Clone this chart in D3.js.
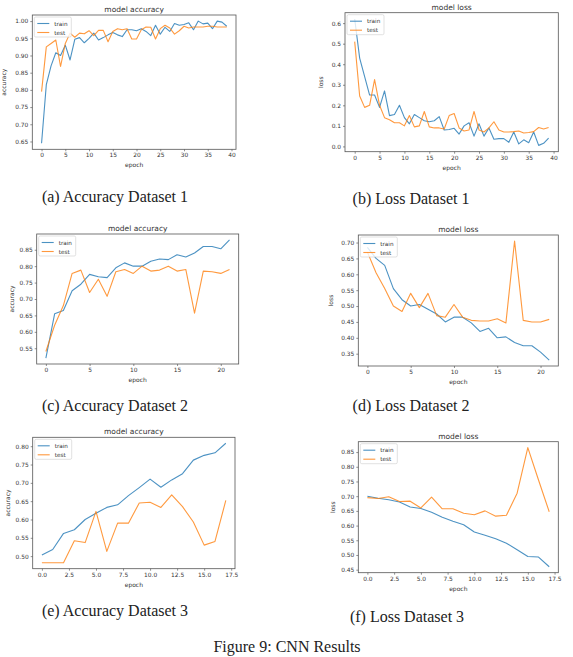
<!DOCTYPE html>
<html lang="en">
<head>
<meta charset="utf-8">
<title>CNN Results</title>
<script src="https://cdn.jsdelivr.net/npm/d3@7"></script>
<style>
  body { margin: 0; background: #fff; }
  svg text { fill: #333; }
  .tick text { font-family: "DejaVu Sans", sans-serif; font-size: 5.9px; fill: #333; }
  .tick line { stroke: #444; stroke-width: 0.6; }
  .domain { display: none; }
  .frame { fill: none; stroke: #555; stroke-width: 0.8; }
  .title { font-family: "DejaVu Sans", sans-serif; font-size: 7.5px; }
  .lab { font-family: "DejaVu Sans", sans-serif; font-size: 6px; }
  .leg text { font-family: "DejaVu Sans", sans-serif; font-size: 5.7px; }
  .cap { font-family: "Liberation Serif", serif; font-size: 16px; fill: #222; }
</style>
</head>
<body>
<svg id="fig" width="573" height="657"></svg>
<script type="text/javascript">

// ---- data ----
// dataset 1 (40 epochs)
var acc1_train = [0.645,0.815,0.87,0.908,0.90,0.93,0.887,0.947,0.952,0.937,0.95,0.965,0.945,0.952,0.96,0.967,0.96,0.955,0.975,0.975,
                  0.972,0.978,0.97,0.958,0.988,0.962,0.982,0.97,0.993,0.988,0.99,0.995,0.975,1.0,0.992,0.994,0.978,1.0,0.997,0.985];
var acc1_test  = [0.795,0.925,0.935,0.945,0.868,0.935,0.965,0.953,0.965,0.963,0.972,0.958,0.973,0.973,0.94,0.97,0.978,0.975,0.978,0.948,
                  0.948,0.975,0.983,0.982,0.948,0.978,0.988,0.98,0.962,0.972,0.985,0.98,0.983,0.983,0.983,0.985,0.985,0.983,0.983,0.983];
var loss1_train = [0.62,0.43,0.34,0.25,0.25,0.19,0.27,0.15,0.155,0.20,0.14,0.11,0.155,0.14,0.125,0.12,0.125,0.145,0.08,0.082,
                   0.088,0.06,0.10,0.115,0.05,0.11,0.05,0.09,0.035,0.038,0.038,0.02,0.07,0.012,0.032,0.018,0.07,0.005,0.015,0.04];
var loss1_test  = [0.51,0.245,0.19,0.20,0.325,0.20,0.14,0.13,0.115,0.115,0.10,0.15,0.095,0.10,0.17,0.095,0.09,0.09,0.085,0.15,
                   0.16,0.09,0.075,0.08,0.17,0.08,0.07,0.09,0.12,0.08,0.07,0.07,0.072,0.075,0.065,0.068,0.072,0.092,0.085,0.092];
// dataset 2 (22 epochs)
var acc2_train = [0.52,0.655,0.665,0.725,0.745,0.775,0.768,0.765,0.795,0.81,0.80,0.80,0.815,0.822,0.82,0.835,0.828,0.84,0.86,0.86,0.853,0.88];
var acc2_test  = [0.54,0.62,0.68,0.778,0.788,0.72,0.76,0.708,0.783,0.79,0.778,0.80,0.785,0.788,0.80,0.785,0.79,0.657,0.785,0.783,0.778,0.79];
var loss2_train = [0.685,0.65,0.628,0.555,0.52,0.50,0.505,0.49,0.475,0.45,0.465,0.465,0.447,0.42,0.43,0.40,0.403,0.385,0.375,0.375,0.355,0.33];
var loss2_test  = [0.67,0.605,0.555,0.50,0.483,0.54,0.495,0.54,0.47,0.465,0.505,0.465,0.455,0.453,0.453,0.46,0.447,0.705,0.455,0.45,0.45,0.458];
// dataset 3 (18 epochs)
var acc3_train = [0.503,0.518,0.562,0.572,0.60,0.617,0.633,0.64,0.665,0.687,0.71,0.688,0.708,0.725,0.762,0.775,0.782,0.808];
var acc3_test  = [0.482,0.482,0.482,0.542,0.537,0.622,0.513,0.59,0.59,0.645,0.647,0.633,0.667,0.635,0.593,0.53,0.54,0.652];
var loss3_train = [0.70,0.693,0.688,0.68,0.663,0.658,0.645,0.628,0.615,0.603,0.578,0.567,0.555,0.54,0.518,0.495,0.493,0.46];
var loss3_test  = [0.695,0.692,0.698,0.682,0.683,0.66,0.697,0.657,0.657,0.642,0.637,0.65,0.632,0.635,0.71,0.865,0.755,0.647];

// tick values
var xt40 = [0,5,10,15,20,25,30,35,40];
var xt20 = [0,5,10,15,20];
var xt175 = [0,2.5,5,7.5,10,12.5,15,17.5];
var yt_acc1 = [0.65,0.70,0.75,0.80,0.85,0.90,0.95,1.00];
var yt_loss1 = [0.0,0.1,0.2,0.3,0.4,0.5,0.6];
var yt_acc2 = [0.55,0.60,0.65,0.70,0.75,0.80,0.85];
var yt_loss2 = [0.35,0.40,0.45,0.50,0.55,0.60,0.65,0.70];
var yt_acc3 = [0.50,0.55,0.60,0.65,0.70,0.75,0.80];
var yt_loss3 = [0.45,0.50,0.55,0.60,0.65,0.70,0.75,0.80,0.85];

var captions = ["(a) Accuracy Dataset 1","(b) Loss Dataset 1","(c) Accuracy Dataset 2",
                "(d) Loss Dataset 2","(e) Accuracy Dataset 3","(f) Loss Dataset 3"];
var series_names = ["train","test"];
var colors = ["#1f77b4","#ff7f0e"];

var svg = d3.select("#fig");

// one subplot: box = plot area rectangle, cap = caption position
function subplot(box, train, test, title, ylab, xticks, yticks, xfmt, yfmt, cap) {
  var g = svg.append("g");
  var n = train.length;
  var xpad = (n - 1) * 0.05;
  var x = d3.scaleLinear().domain([-xpad, n - 1 + xpad]).range([box.x0, box.x1]);
  var all = train.concat(test);
  var lo = d3.min(all), hi = d3.max(all), yp = (hi - lo) * 0.05;
  var y = d3.scaleLinear().domain([lo - yp, hi + yp]).range([box.y1, box.y0]);

  g.append("g").attr("transform", "translate(0," + box.y1 + ")")
    .call(d3.axisBottom(x).tickValues(xticks).tickFormat(d3.format(xfmt)).tickSize(2).tickPadding(2));
  g.append("g").attr("transform", "translate(" + box.x0 + ",0)")
    .call(d3.axisLeft(y).tickValues(yticks).tickFormat(d3.format(yfmt)).tickSize(2).tickPadding(2));

  var line = d3.line().x(function(d, i) { return x(i); }).y(function(d) { return y(d); });
  [train, test].forEach(function(s, k) {
    g.append("path").datum(s).attr("d", line)
      .attr("fill", "none").attr("stroke", colors[k]).attr("stroke-width", 1.1)
      .attr("stroke-linejoin", "round").attr("opacity", 0.8);
  });

  g.append("rect").attr("class", "frame")
    .attr("x", box.x0).attr("y", box.y0).attr("width", box.x1 - box.x0).attr("height", box.y1 - box.y0);

  g.append("text").attr("class", "title").attr("text-anchor", "middle")
    .attr("x", (box.x0 + box.x1) / 2).attr("y", box.y0 - 3).text(title);
  g.append("text").attr("class", "lab").attr("text-anchor", "middle")
    .attr("x", (box.x0 + box.x1) / 2).attr("y", box.y1 + 18).text("epoch");
  g.append("text").attr("class", "lab").attr("text-anchor", "middle")
    .attr("transform", "translate(" + (box.x0 - box.yl) + "," + ((box.y0 + box.y1) / 2) + ") rotate(-90)")
    .text(ylab);

  // legend, upper left
  var leg = g.append("g").attr("class", "leg").attr("transform", "translate(" + (box.x0 + 2) + "," + (box.y0 + 2) + ")");
  leg.append("rect").attr("width", 37).attr("height", 20).attr("rx", 1.5)
    .attr("fill", "#fff").attr("fill-opacity", 0.8).attr("stroke", "#ccc").attr("stroke-width", 0.6);
  series_names.forEach(function(nm, k) {
    var yy = 6.5 + k * 9;
    leg.append("line").attr("x1", 3).attr("x2", 15).attr("y1", yy).attr("y2", yy)
      .attr("stroke", colors[k]).attr("stroke-width", 1.1).attr("opacity", 0.8);
    leg.append("text").attr("x", 20).attr("y", yy + 2).text(nm);
  });

  svg.append("text").attr("class", "cap").attr("text-anchor", "middle")
    .attr("x", cap[0]).attr("y", cap[1]).text(cap[2]);
}

subplot({x0: 32.3, x1: 236, y0: 15, y1: 149.3, yl: 26}, acc1_train, acc1_test, "model accuracy", "accuracy",
        xt40, yt_acc1, "d", ".2f", [115, 202, captions[0]]);
subplot({x0: 345, x1: 558.3, y0: 12.7, y1: 151.7, yl: 22}, loss1_train, loss1_test, "model loss", "loss",
        xt40, yt_loss1, "d", ".1f", [411, 204, captions[1]]);
subplot({x0: 36.7, x1: 238.7, y0: 234, y1: 364, yl: 23}, acc2_train, acc2_test, "model accuracy", "accuracy",
        xt20, yt_acc2, "d", ".2f", [115, 411, captions[2]]);
subplot({x0: 358.3, x1: 558.3, y0: 235, y1: 366, yl: 25}, loss2_train, loss2_test, "model loss", "loss",
        xt20, yt_loss2, "d", ".2f", [411, 411, captions[3]]);
subplot({x0: 32.7, x1: 235, y0: 437.3, y1: 568.7, yl: 23}, acc3_train, acc3_test, "model accuracy", "accuracy",
        xt175, yt_acc3, ".1f", ".2f", [115, 616, captions[4]]);
subplot({x0: 358.3, x1: 558.3, y0: 441.7, y1: 572.7, yl: 23}, loss3_train, loss3_test, "model loss", "loss",
        xt175, yt_loss3, ".1f", ".2f", [407, 622, captions[5]]);

svg.append("text").attr("class", "cap").attr("text-anchor", "middle")
  .attr("x", 287).attr("y", 652).text("Figure 9: CNN Results");

</script>
</body>
</html>
